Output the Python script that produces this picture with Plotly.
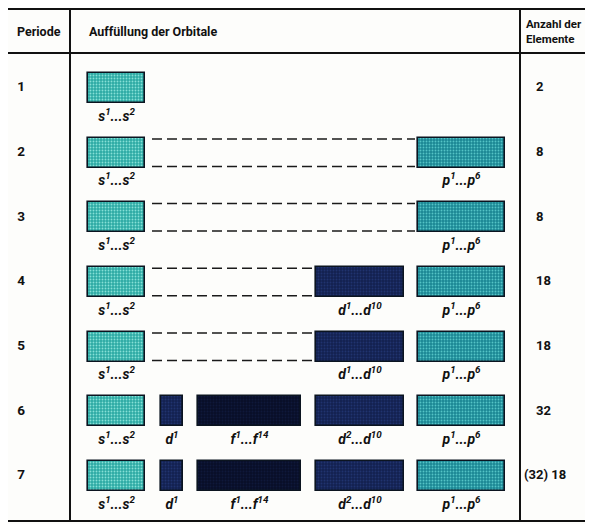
import plotly.graph_objects as go

# ---------------- data ----------------
periods = [1, 2, 3, 4, 5, 6, 7]
counts = ["2", "8", "8", "18", "18", "32", "(32) 18"]
# which orbital blocks are filled in each period
blocks_s = [1, 2, 3, 4, 5, 6, 7]
blocks_d1 = [6, 7]
blocks_f = [6, 7]
blocks_d = [4, 5, 6, 7]
blocks_p = [2, 3, 4, 5, 6, 7]
# dashed gaps (periods where a block range is still empty)
gap_periods_to_p = [2, 3]
gap_periods_to_d = [4, 5]
label_s = "s<sup>1</sup>...s<sup>2</sup>"
label_d1 = "d<sup>1</sup>"
label_f = "f<sup>1</sup>...f<sup>14</sup>"
label_d_a = "d<sup>1</sup>...d<sup>10</sup>"
label_d_b = "d<sup>2</sup>...d<sup>10</sup>"
label_p = "p<sup>1</sup>...p<sup>6</sup>"
headers = ["Periode", "Auffüllung der Orbitale", "Anzahl der<br>Elemente"]

# ---------------- layout constants ----------------
W, H = 593, 524
OFF = 8  # page body margin
col = {  # x extents of block columns (in window-px axis units)
    "s": (88, 145), "d1": (161, 183), "f": (198, 301),
    "d": (316, 404), "p": (418, 505),
}
BOX_H = 0.465
FONT = "Roboto, Liberation Sans, sans-serif"
EDGE = "#0b1420"

styles = {
    "s": dict(color="#2caaa4", fg="#86e0d6"),
    "d1": dict(color="#132150", fg="#20336f"),
    "f": dict(color="#080e28", fg="#0f183a"),
    "d": dict(color="#132150", fg="#20336f"),
    "p": dict(color="#1b8794", fg="#55c3c6"),
}

fig = go.Figure()


def add_blocks(key, rows):
    x0, x1 = col[key]
    st = styles[key]
    fig.add_trace(go.Bar(
        orientation="h", y=rows, x=[x1 - x0] * len(rows), base=[x0] * len(rows),
        width=BOX_H,
        marker=dict(color=st["color"], line=dict(color=EDGE, width=1.6),
                    pattern=dict(shape=".", fgcolor=st["fg"], bgcolor=st["color"],
                                 size=3, solidity=0.3, fillmode="replace")),
        hoverinfo="skip", showlegend=False))


add_blocks("s", blocks_s)
add_blocks("d1", blocks_d1)
add_blocks("f", blocks_f)
add_blocks("d", blocks_d)
add_blocks("p", blocks_p)


# dashed connector lines
def add_gap(rows, x_end):
    xs, ys = [], []
    for r in rows:
        for dy in (-BOX_H / 2 + 0.02, BOX_H / 2 - 0.02):
            xs += [152, x_end, None]
            ys += [r + dy, r + dy, None]
    fig.add_trace(go.Scatter(x=xs, y=ys, mode="lines",
                             line=dict(color="#1a1a1a", width=1.5, dash="10px,5px"),
                             hoverinfo="skip", showlegend=False))


add_gap(gap_periods_to_p, col["p"][0] - 3)
add_gap(gap_periods_to_d, col["d"][0] - 3)


# labels under boxes
def add_labels(key, rows, text):
    x0, x1 = col[key]
    fig.add_trace(go.Scatter(
        x=[(x0 + x1) / 2] * len(rows), y=[r + 0.45 for r in rows], mode="text",
        text=["<b><i>" + text + "</i></b>"] * len(rows),
        textfont=dict(family=FONT, size=14, color="#111"),
        hoverinfo="skip", showlegend=False))


add_labels("s", blocks_s, label_s)
add_labels("d1", blocks_d1, label_d1)
add_labels("f", blocks_f, label_f)
add_labels("d", [r for r in blocks_d if r < 6], label_d_a)
add_labels("d", [r for r in blocks_d if r >= 6], label_d_b)
add_labels("p", blocks_p, label_p)

# period numbers and element counts
fig.add_trace(go.Scatter(
    x=[21] * len(periods), y=periods, mode="text",
    text=["<b>%d</b>" % p for p in periods],
    textfont=dict(family=FONT, size=13.5, color="#111"),
    hoverinfo="skip", showlegend=False))
count_x = [536] * (len(periods) - 1) + [524]
fig.add_trace(go.Scatter(
    x=count_x, y=periods, mode="text", textposition="middle right",
    text=["<b>" + c + "</b>" for c in counts],
    textfont=dict(family=FONT, size=13, color="#111"),
    hoverinfo="skip", showlegend=False))

# header texts
hdr_x = [39, 87, 524]
hdr_anchor = ["center", "left", "left"]
hdr_size = [12.5, 12.5, 11.5]
for t, x, a, s in zip(headers, hdr_x, hdr_anchor, hdr_size):
    fig.add_annotation(x=x, y=31, xref="x", yref="y2",
                       text="<b>" + t + "</b>", showarrow=False, xanchor=a,
                       align="left", font=dict(family=FONT, size=s, color="#111"))

# table grid lines (y2 axis in window px units, top-down)
line = dict(color="#111", width=2)
grid = [
    (4, 9, 600, 9), (4, 53, 600, 53), (4, 521, 600, 521),
    (4, 9, 4, 521), (70, 9, 70, 521), (520, 9, 520, 521),
]
for x0, y0, x1, y1 in grid:
    fig.add_shape(type="line", x0=x0, y0=y0, x1=x1, y1=y1, xref="x", yref="y2",
                  line=line)

ROW0, STEP = 88, 64.67
y_top = 1 - (ROW0 - OFF) / STEP
y_bot = 1 + (H - ROW0) / STEP
fig.update_layout(
    width=W - OFF, height=H - OFF, margin=dict(l=0, r=0, t=0, b=0),
    paper_bgcolor="#fdfdfb", plot_bgcolor="rgba(0,0,0,0)",
    barmode="overlay", bargap=0,
    xaxis=dict(range=[OFF, W], visible=False, fixedrange=True),
    yaxis=dict(range=[y_bot, y_top], visible=False, fixedrange=True),
    yaxis2=dict(range=[H, OFF], visible=False, overlaying="y", fixedrange=True),
)
fig.write_html("out.html")
